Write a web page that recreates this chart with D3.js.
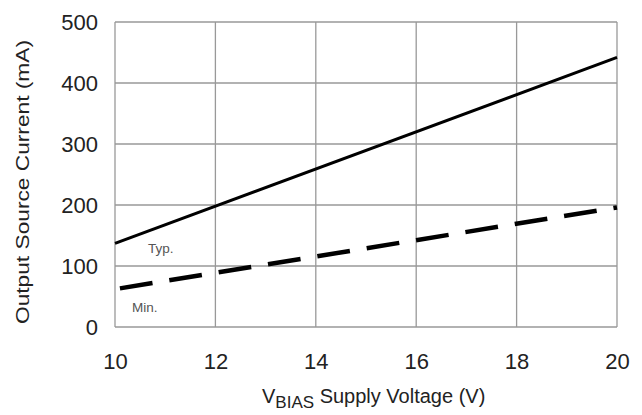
<!DOCTYPE html>
<html><head><meta charset="utf-8">
<script src="https://cdn.jsdelivr.net/npm/d3@7"></script>
<style>body{margin:0;background:#fff;}svg{display:block;font-family:Arial,"Liberation Sans",sans-serif;}</style>
</head><body>
<svg id="c" width="642" height="415"></svg>
<script>
const voltage = [10, 20];
const typCurrent = [137, 442];
const minCurrent = [62, 196];
const xTicks = [10, 12, 14, 16, 18, 20];
const yTicks = [0, 100, 200, 300, 400, 500];

const svg = d3.select("#c");
const m = {l:115, r:617, t:22, b:327};
const x = d3.scaleLinear().domain([10,20]).range([m.l, m.r]);
const y = d3.scaleLinear().domain([0,500]).range([m.b, m.t]);

const grid = svg.append("g").attr("stroke","#999").attr("stroke-width",1.3);
xTicks.forEach(t => grid.append("line").attr("x1",x(t)).attr("x2",x(t)).attr("y1",m.t).attr("y2",m.b));
yTicks.forEach(t => grid.append("line").attr("x1",m.l).attr("x2",m.r).attr("y1",y(t)).attr("y2",y(t)));

const xAxis = svg.append("g").attr("transform",`translate(0,${m.b})`)
  .call(d3.axisBottom(x).tickValues(xTicks).tickSize(0).tickPadding(26).tickFormat(d3.format("d")));
const yAxis = svg.append("g").attr("transform",`translate(${m.l},0)`)
  .call(d3.axisLeft(y).tickValues(yTicks).tickSize(0).tickPadding(17).tickFormat(d3.format("d")));
[xAxis,yAxis].forEach(a => {
  a.select(".domain").remove();
  a.selectAll("text").attr("font-size",22).attr("fill","#222").attr("font-family","Arial, 'Liberation Sans', sans-serif");
});
xAxis.selectAll("text").attr("dy",null).attr("y",42);
yAxis.selectAll("text").attr("dy","0.34em");

const line = d3.line().x((d,i)=>x(voltage[i])).y(d=>y(d));
svg.append("path").datum(typCurrent).attr("d",line).attr("fill","none").attr("stroke","#000").attr("stroke-width",3);
svg.append("path").datum(minCurrent).attr("d",line).attr("fill","none").attr("stroke","#000").attr("stroke-width",4.5)
  .attr("stroke-dasharray","33,17").attr("stroke-dashoffset",-5);

svg.append("text").attr("x",148).attr("y",253).attr("font-size",13.5).attr("fill","#555").text("Typ.");
svg.append("text").attr("x",132).attr("y",312).attr("font-size",13.5).attr("fill","#555").text("Min.");

const xt = svg.append("text").attr("x",262).attr("y",403).attr("font-size",20).attr("fill","#222");
xt.append("tspan").text("V");
xt.append("tspan").attr("font-size",17).attr("dy",5).text("BIAS");
xt.append("tspan").attr("dy",-5).text(" Supply Voltage (V)");

svg.append("text").attr("transform",`translate(29,182) rotate(-90)`).attr("text-anchor","middle")
  .attr("font-size",19).attr("fill","#222").attr("textLength",284).attr("lengthAdjust","spacingAndGlyphs")
  .text("Output Source Current (mA)");
</script>
</body></html>
